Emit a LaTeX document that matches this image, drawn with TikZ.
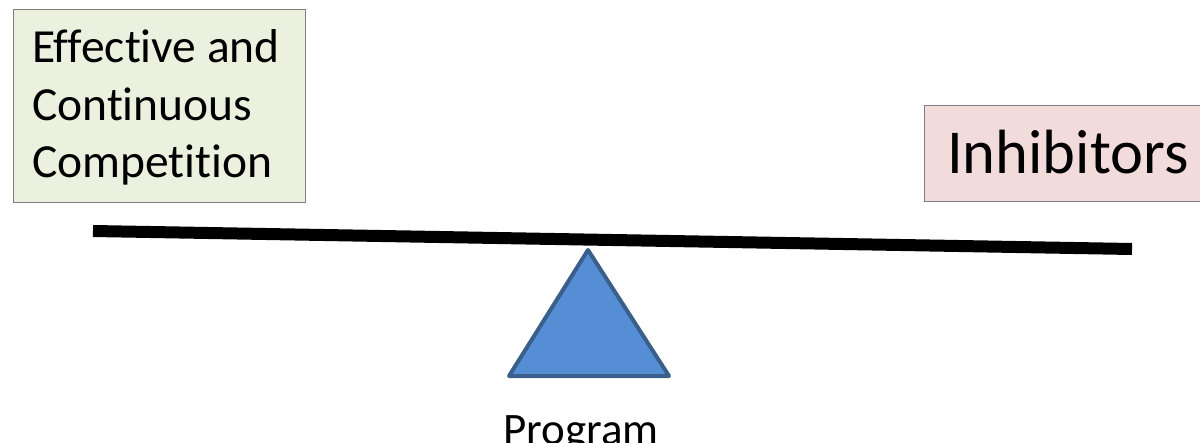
\documentclass[tikz,border=0pt]{standalone}
\usepackage{fontspec}
\setmainfont{Carlito}[Ligatures=NoCommon]
\definecolor{greenfill}{HTML}{EBF1DE}
\definecolor{redfill}{HTML}{F2DCDB}
\definecolor{boxline}{HTML}{7F7F7F}
\definecolor{trifill}{HTML}{558ED5}
\definecolor{triline}{HTML}{3A5F8B}
\tikzset{
  panel/.style={draw=boxline, line width=1.3pt, anchor=north west, inner sep=0pt},
  label text/.style={anchor=base west, inner sep=0pt, align=left},
  beam/.style={line width=12pt, line cap=butt, black},
  fulcrum/.style={fill=trifill, draw=triline, line width=4pt, line join=round},
}
\begin{document}
\begin{tikzpicture}[x=1pt,y=-1pt]
\useasboundingbox (0,0) rectangle (1200,442);
% left box
\node[panel, fill=greenfill, minimum width=292pt, minimum height=193pt] (lbox) at (13,9) {};
\node[label text, font=\fontsize{47.5}{57.5}\selectfont] (ltext) at (32,177.7)
  {Effective and\\Continuous\\Competition};
% right box
\node[panel, fill=redfill, minimum width=300pt, minimum height=96pt] (rbox) at (924,105) {};
\node[label text, font=\fontsize{62.5}{70}\selectfont] (rtext) at (947,173) {Inhibitors};
% beam
\coordinate (bl) at (93,231);
\coordinate (br) at (1132,249);
\draw[beam] (bl) -- (br);
% fulcrum
\coordinate (apex) at (588,250);
\coordinate (tl) at (509,376);
\coordinate (tr) at (669,376);
\draw[fulcrum] (apex) -- (tl) -- (tr) -- cycle;
\node[anchor=base, inner sep=0pt, font=\fontsize{45}{54}\selectfont] (prog) at (581,444) {Program};
\end{tikzpicture}
\end{document}
